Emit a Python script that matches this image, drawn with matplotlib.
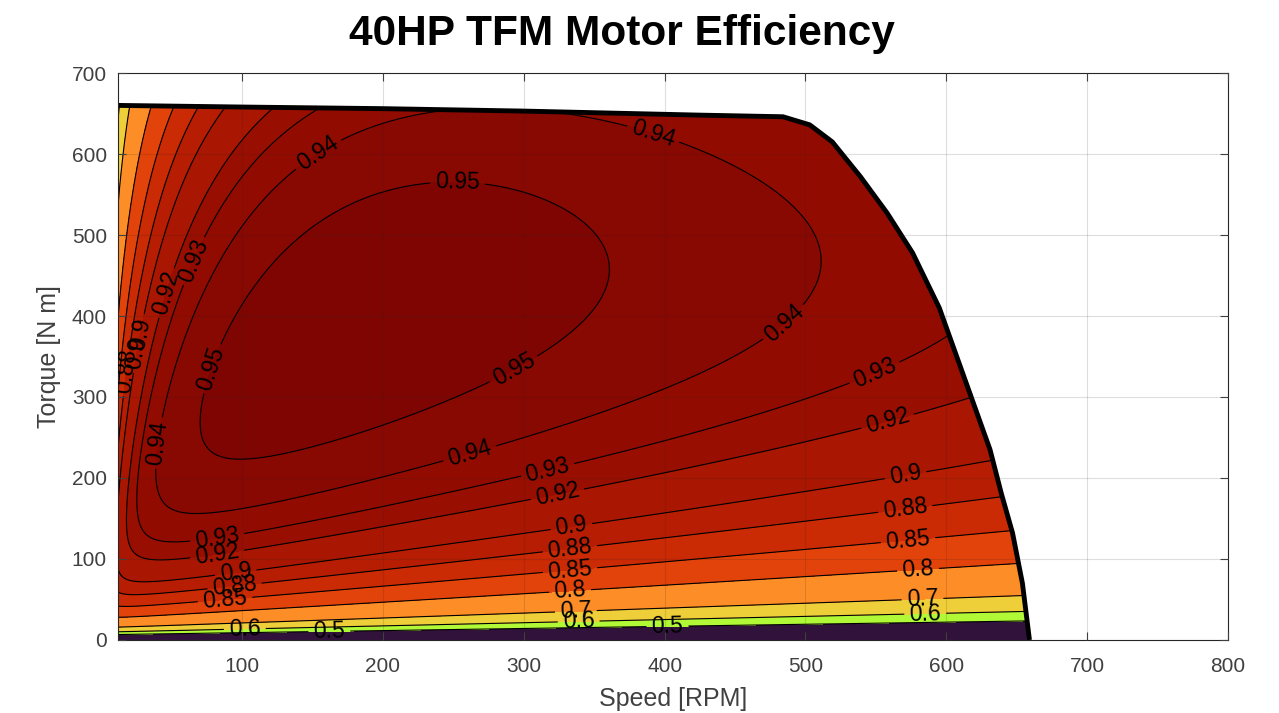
import numpy as np
import matplotlib
matplotlib.use("Agg")
import matplotlib.pyplot as plt
from matplotlib.path import Path
from matplotlib.patches import PathPatch

plt.rcParams['font.family'] = ['Liberation Sans', 'DejaVu Sans']

# torque envelope (RPM, N m)
speed_env = [12, 100, 200, 300, 425, 484, 503, 519, 539, 558, 576, 595, 631, 639, 647, 654, 659]
torque_env = [660, 658, 656, 653, 648, 646, 636, 615, 572, 527, 478, 410, 235, 181, 132, 70, 0]

# contour levels shown on the chart
levels = [0.5, 0.6, 0.7, 0.8, 0.85, 0.88, 0.9, 0.92, 0.93, 0.94, 0.95]

# loss model coefficients (estimated from the contour positions)
nl_a = 6.4        # no-load loss / omega, constant part [N m]
nl_b = 0.026      # no-load loss / omega, speed part [N m / RPM]
k_cu = 0.00048    # copper loss coefficient [W / (N m)^2]
t_sat = 550.0     # saturation torque [N m]
t_sat2 = 747.0    # deep saturation torque [N m]
n_ac = 390.0      # ac copper loss speed [RPM]
p_ac = 2.5

# label positions (speed, torque)
label_pos = [(152, 605), (393, 630), (253, 564), (67, 467), (47, 428), (31, 377),
             (23, 356), (16, 333), (86, 331), (484, 393), (292, 337), (549, 330),
             (50, 241), (558, 272), (262, 228), (317, 210), (324, 179), (571, 205),
             (83, 120), (334, 138), (571, 159), (83, 99), (333, 110), (573, 120),
             (96, 77), (95, 63), (88, 49), (333, 83), (333, 57), (580, 84),
             (337, 35), (339, 21), (583, 53), (585, 33), (162, 10), (402, 16), (102, 12)]

n = np.linspace(12, 800, 700)
T = np.linspace(0, 665, 500)
N, TT = np.meshgrid(n, T)
w = N * np.pi / 30
P = TT * w
P_nl = w * (nl_a + nl_b * N)
sat = 1 + (TT / t_sat)**2 + (TT / t_sat2)**8
P_cu = k_cu * TT**2 * sat * (1 + (N / n_ac)**p_ac)
eta = P / (P + P_nl + P_cu)

verts = list(zip(speed_env, torque_env)) + [(12, 0), (12, 660)]
env_path = Path(verts)
inside = env_path.contains_points(np.c_[N.ravel(), TT.ravel()]).reshape(N.shape)
eta_max = eta[inside].max()

fill_levels = [0] + levels + [1.0]
cmap = plt.get_cmap('turbo')
colors = [cmap(lv / eta_max) for lv in [0] + levels]

fig = plt.figure(figsize=(12.79, 7.13), dpi=100)
ax = fig.add_axes([0.0923, 0.1024, 0.8679, 0.7952])

patch = PathPatch(env_path, facecolor='none', edgecolor='none')
ax.add_patch(patch)
cf = ax.contourf(N, TT, eta, levels=fill_levels, colors=colors)
cf.set_clip_path(patch)
cs = ax.contour(N, TT, eta, levels=levels, colors='k', linewidths=0.8)
cs.set_clip_path(patch)
ax.clabel(cs, inline=True, fontsize=16.5, fmt='%g', manual=label_pos)

ax.plot(speed_env, torque_env, color='k', lw=3.5, solid_capstyle='butt')

ax.set_xlim(12, 800)
ax.set_ylim(0, 700)
ax.set_xticks(range(100, 801, 100))
ax.set_yticks(range(0, 701, 100))
ax.set_axisbelow(False)
ax.grid(True, color='#262626', alpha=0.15, lw=0.8)
ax.tick_params(direction='in', top=True, right=True, labelsize=15, colors='#404040',
               length=6, pad=8)
ax.tick_params(axis='x', pad=12)
for sp in ax.spines.values():
    sp.set_color('#262626')
    sp.set_linewidth(0.8)
ax.set_xlabel('Speed [RPM]', fontsize=18, color='#404040', labelpad=8)
ax.set_ylabel('Torque [N m]', fontsize=18, color='#404040', labelpad=8)
fig.text(0.486, 0.953, '40HP TFM Motor Efficiency', ha='center', va='center',
         fontsize=30.5, fontweight='bold')

fig.savefig('out.png', dpi=100)
